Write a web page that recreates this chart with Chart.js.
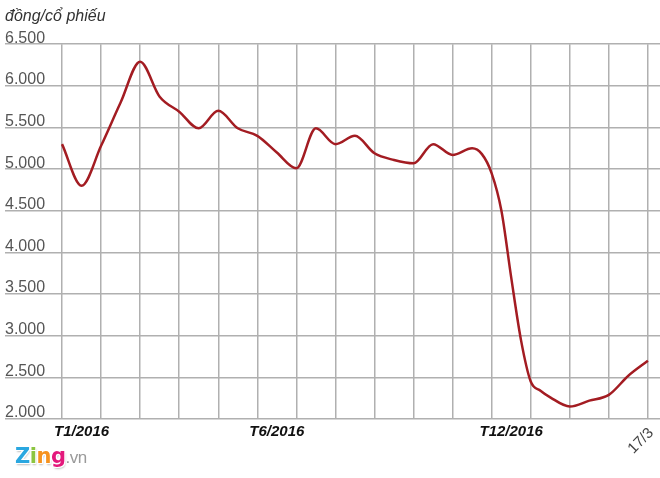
<!DOCTYPE html>
<html>
<head>
<meta charset="utf-8">
<script src="https://cdn.jsdelivr.net/npm/chart.js@4"></script>
<style>
    body { margin: 0; background: #fff; }
    #wrap { position: relative; width: 660px; height: 478px; }
    #logo {
        position: absolute; left: 15px; top: 444px;
        font-family: "DejaVu Sans", Arial, sans-serif; font-weight: bold; font-size: 21px;
        letter-spacing: -0.5px;
        text-shadow: 1px 1px 0 #fff, -1px -1px 0 #fff, 1px -1px 0 #fff, -1px 1px 0 #fff, 1px 2px 2px rgba(0,0,0,0.25);
    }
    #logo .vn { font-family: "Liberation Sans", Arial, sans-serif; font-weight: normal; font-size: 17px; color: #9a9a9a; text-shadow: none; }
</style>
</head>
<body>
<div id="wrap">
    <canvas id="priceChart" width="660" height="478"></canvas>
    <div id="logo"><span style="color:#2aa7e0">Z</span><span style="color:#8cc540">i</span><span style="color:#f6921e">n</span><span style="color:#e3197c">g</span><span class="vn">.vn</span></div>
</div>
<script>
// month index: 0 = start of T1/2016, 15 = 17/3/2017
const months = [0, 0.5, 1, 1.5, 2, 2.5, 3, 3.5, 4, 4.5, 5, 5.5, 6, 6.5, 7, 7.5, 8, 8.5, 9, 9.5,
    10, 10.5, 10.75, 11, 11.25, 11.5, 11.75, 12, 12.25, 12.5, 13, 13.5, 14, 14.5, 15];
const prices = [5300, 4800, 5280, 5800, 6290, 5870, 5690, 5490, 5700, 5490, 5400, 5200, 5010, 5490, 5300, 5400, 5190, 5110, 5070, 5300,
    5170, 5250, 5180, 4950, 4500, 3700, 2950, 2450, 2340, 2260, 2150, 2220, 2290, 2520, 2700];

const xLabelPos = [0.5, 5.5, 11.5];
const xLabelText = ["T1/2016", "T6/2016", "T12/2016"];
const endLabelPos = 15;
const endLabelText = "17/3";
const yTicks = [2000, 2500, 3000, 3500, 4000, 4500, 5000, 5500, 6000, 6500];
const unitLabel = "đồng/cổ phiếu";

const GRID = "#b0b0b0";
const FONT = "'Liberation Sans', Arial, sans-serif";

// rotated "17/3" label at the end of the x axis
const endLabelPlugin = {
    id: "endLabel",
    afterDraw(chart) {
        const { ctx, scales, chartArea } = chart;
        const x = scales.x.getPixelForValue(endLabelPos);
        ctx.save();
        ctx.translate(x - 7, chartArea.bottom + 22);
        ctx.rotate(-Math.PI / 4);
        ctx.font = "15px " + FONT;
        ctx.fillStyle = "#444";
        ctx.textAlign = "center";
        ctx.textBaseline = "middle";
        ctx.fillText(endLabelText, 0, 0);
        ctx.restore();
    }
};

new Chart(document.getElementById("priceChart"), {
    type: "line",
    data: {
        datasets: [{
            data: months.map((m, i) => ({ x: m, y: prices[i] })),
            borderColor: "#a31c22",
            borderWidth: 2.5,
            pointRadius: 0,
            cubicInterpolationMode: "monotone",
            fill: false
        }]
    },
    options: {
        responsive: false,
        animation: false,
        layout: { padding: { left: 5, right: 0, top: 0, bottom: 33 } },
        plugins: {
            legend: { display: false },
            tooltip: { enabled: false },
            title: {
                display: true,
                text: unitLabel,
                align: "start",
                color: "#333",
                font: { family: FONT, size: 16, style: "italic", weight: "normal" },
                padding: { top: 7, bottom: 18 }
            }
        },
        scales: {
            x: {
                type: "linear",
                min: -1.46,
                max: 15.31,
                afterBuildTicks: axis => {
                    const t = [];
                    for (let v = 0; v <= 15; v += 0.5) t.push({ value: v });
                    axis.ticks = t;
                },
                grid: {
                    color: c => (c.tick && Number.isInteger(c.tick.value)) ? GRID : "rgba(0,0,0,0)",
                    lineWidth: 1.5,
                    drawTicks: false
                },
                border: { display: false },
                ticks: {
                    autoSkip: false,
                    maxRotation: 0,
                    padding: 4,
                    color: "#111",
                    font: { family: FONT, size: 15, style: "italic", weight: "bold" },
                    callback: v => {
                        const i = xLabelPos.indexOf(v);
                        return i >= 0 ? xLabelText[i] : "";
                    }
                }
            },
            y: {
                min: 2000,
                max: 6500,
                afterBuildTicks: axis => { axis.ticks = yTicks.map(v => ({ value: v })); },
                grid: { color: GRID, lineWidth: 1.5, drawTicks: false },
                border: { display: false },
                ticks: {
                    mirror: true,
                    padding: 0,
                    labelOffset: -6,
                    color: "#555",
                    font: { family: FONT, size: 16 },
                    callback: v => v.toLocaleString("de-DE")
                }
            }
        }
    },
    plugins: [endLabelPlugin]
});
</script>
</body>
</html>
